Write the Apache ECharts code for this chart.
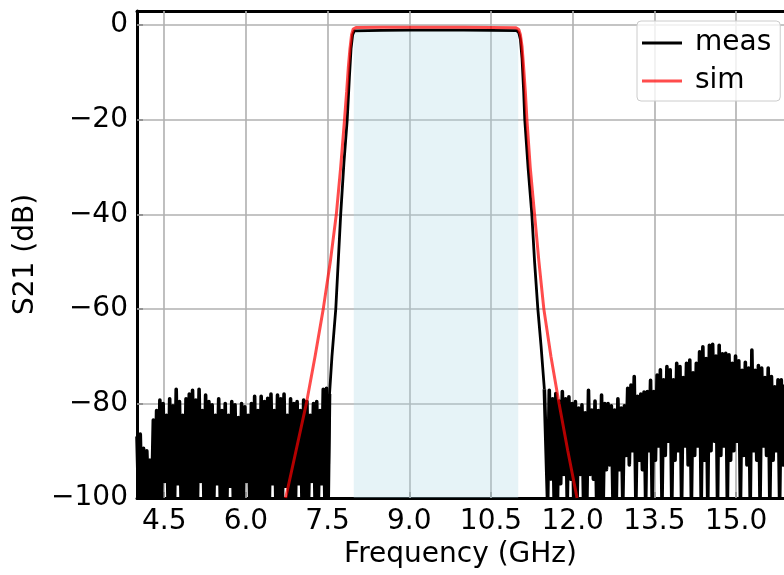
<!DOCTYPE html>
<html><head><meta charset="utf-8">
<script src="https://cdn.jsdelivr.net/npm/echarts@6/dist/echarts.min.js"></script>
<style>html,body{margin:0;padding:0;background:#fff}#c{width:784px;height:575px}</style>
</head><body><div id="c"></div>
<script>
// ---- tick labels ----
const xTicks = [4.5, 6.0, 7.5, 9.0, 10.5, 12.0, 13.5, 15.0];
const yTicks = [-100, -80, -60, -40, -20, 0];

// ---- measured S21: noise floor below band (sweep from 4.00 GHz, 0.03 GHz step) ----
const leftNoiseStart = 4.00;
const noiseStep = 0.03;
const leftNoiseDb = [
  -87, -101, -86.5, -101, -89.5, -101, -90, -101, -92, -101,
  -83.5, -101, -81.5, -100, -79.3, -101, -80, -96.5, -82.5, -101,
  -79, -101, -80.5, -101, -77, -97, -79.6, -101, -82.5, -101,
  -79, -101, -78, -101, -77.2, -101, -79.3, -101, -77, -96.5,
  -81.5, -101, -78.2, -101, -79.6, -101, -80.3, -101, -82.5, -97,
  -79, -101, -81.5, -101, -80, -101, -82.5, -97.5, -79.6, -101,
  -80.3, -101, -83, -101, -80, -101, -80.7, -96.5, -82.5, -101,
  -80, -101, -78.5, -101, -81.5, -101, -78.5, -101, -79.6, -101,
  -78.9, -101, -78, -97, -81.5, -101, -78.2, -101, -79, -101,
  -78, -97.5, -82.5, -101, -79, -101, -80, -101, -79.6, -97,
  -81.5, -101, -79.3, -101, -79.6, -101, -82.5, -96.5, -80, -101,
  -79.6, -101, -81.5, -97, -77, -101, -76.8
];

// ---- measured S21: skirts and passband ----
const measEdgeFreq = [7.51, 7.535, 7.58, 7.65, 7.74, 7.80, 7.86, 7.90, 7.93, 7.96, 7.99,
  8.5, 9.0, 9.5, 10.0, 10.5, 10.97, 11.01, 11.04, 11.07, 11.10, 11.12, 11.18, 11.25,
  11.30, 11.36, 11.42, 11.48];
const measEdgeDb = [-101, -78, -70, -60, -40, -29, -20, -11, -5, -2, -1.2,
  -1.1, -1.05, -1.05, -1.05, -1.1, -1.15, -1.6, -3, -7, -14, -20, -30, -40,
  -50, -60, -68, -77];

// ---- measured S21: noise floor above band (from 11.51 GHz, 0.03 GHz step) ----
const rightNoiseStart = 11.51;
const rightNoiseDb = [
  -77, -101, -77.2, -96, -79, -101, -77.9, -101, -79.5, -97,
  -77.5, -95, -79, -101, -78.6, -96, -80, -101, -79.6, -101,
  -81, -95, -80.3, -101, -82, -101, -77.2, -95, -81.4, -96,
  -79.5, -101, -81.5, -101, -78.2, -101, -80, -94, -80, -93,
  -80.5, -101, -81.4, -101, -79, -94, -81, -101, -80.5, -91,
  -76.8, -93, -76.1, -90, -74.3, -101, -78.5, -92, -78, -94,
  -77.6, -101, -77.5, -90, -75.1, -101, -77.5, -92, -74, -89,
  -72.9, -101, -75, -91, -72.2, -88, -72.9, -101, -75, -92,
  -71.5, -90, -72.2, -101, -74.5, -89, -71.5, -93, -70.8, -101,
  -73.5, -91, -71.5, -89, -69.1, -101, -68, -92, -70.5, -101,
  -67.7, -90, -67.5, -88, -70, -101, -67.7, -91, -69.5, -89,
  -69.4, -101, -69.7, -92, -71.5, -90, -70, -88, -71, -101,
  -73, -91, -71.3, -93, -72.5, -101, -68.7, -90, -73, -92,
  -72, -101, -72.5, -89, -74.5, -91, -72.5, -101, -74.3, -92,
  -76.5, -90, -75, -101, -75, -93, -76
];

// ---- simulated S21 ----
const simFreq = [6.73, 6.92, 7.11, 7.27, 7.42, 7.55, 7.66, 7.74, 7.81, 7.85, 7.88, 7.91, 7.94, 7.97, 8.02,
  8.5, 9.0, 9.5, 10.0, 10.5, 10.96, 11.01, 11.04, 11.07, 11.10, 11.13, 11.16, 11.22, 11.30,
  11.38, 11.47, 11.60, 11.75, 11.91, 12.08];
const simDb = [-100, -90, -80, -70, -60, -50, -40, -30, -20, -14, -9, -5, -2, -0.8, -0.5,
  -0.45, -0.45, -0.45, -0.45, -0.5, -0.55, -0.9, -2, -4.5, -9, -14, -20, -30, -40,
  -50, -60, -70, -80, -90, -100];

// ---- shaded passband ----
const bandStart = 7.98, bandEnd = 11.0, bandTop = -1.1;

const FONT = 'DejaVu Sans';
const measLow = leftNoiseDb.map((v, i) => [+(leftNoiseStart + i * noiseStep).toFixed(3), v]);
const measMid = measEdgeFreq.map((f, i) => [f, measEdgeDb[i]]);
const measHigh = rightNoiseDb.map((v, i) => [+(rightNoiseStart + i * noiseStep).toFixed(3), v]);
const sim = simFreq.map((f, i) => [f, simDb[i]]);

const fmtY = v => (v < 0 ? '\u2212' + Math.abs(v) : String(v));
const measSeries = (data, w) => ({
  name: 'meas', type: 'line', z: 3, symbol: 'none', showSymbol: false, clip: true, silent: true,
  color: '#000', data: data, lineStyle: {color: '#000', width: w, join: 'round'}
});
const chart = echarts.init(document.getElementById('c'), null, {renderer: 'canvas'});
chart.setOption({
  animation: false,
  backgroundColor: '#fff',
  textStyle: {fontFamily: FONT},
  grid: {left: 137, right: 0, top: 11, bottom: 77},
  legend: {
    data: ['meas', 'sim'], orient: 'vertical', left: 637, top: 21,
    icon: 'rect', itemWidth: 40, itemHeight: 3, itemGap: 4,
    padding: [5, 9, 3, 5],
    backgroundColor: 'rgba(255,255,255,0.8)', borderColor: '#cccccc', borderWidth: 1, borderRadius: 4,
    textStyle: {fontSize: 28, color: '#000', fontFamily: FONT, lineHeight: 34, padding: [0, 0, 0, 8]}
  },
  xAxis: [{
    type: 'value', min: 4.0, max: 15.88, position: 'bottom',
    name: 'Frequency (GHz)', nameLocation: 'middle', nameGap: 40,
    nameTextStyle: {fontSize: 28, color: '#000', fontFamily: FONT},
    axisLine: {show: true, onZero: false, lineStyle: {color: '#000', width: 3}},
    axisTick: {show: true, inside: true, length: 6, lineStyle: {color: '#000', width: 1.5}, customValues: xTicks},
    axisLabel: {fontSize: 28, color: '#000', margin: 10, fontFamily: FONT, customValues: xTicks,
      formatter: v => Number(v).toFixed(1)},
    splitLine: {show: false}
  }, {
    type: 'value', min: 4.0, max: 15.88, position: 'top',
    axisLine: {show: true, onZero: false, lineStyle: {color: '#000', width: 3}},
    axisTick: {show: false}, axisLabel: {show: false}, splitLine: {show: false}
  }],
  yAxis: {
    type: 'value', min: -100, max: 3,
    name: 'S21 (dB)', nameLocation: 'middle', nameGap: 95,
    nameTextStyle: {fontSize: 28, color: '#000', fontFamily: FONT},
    axisLine: {show: true, onZero: false, lineStyle: {color: '#000', width: 3}},
    axisTick: {show: true, inside: true, length: 6, lineStyle: {color: '#000', width: 1.5}, customValues: yTicks},
    axisLabel: {fontSize: 28, color: '#000', margin: 9, fontFamily: FONT, customValues: yTicks, formatter: fmtY},
    splitLine: {show: false}
  },
  series: [
    {
      name: 'gridlines', type: 'line', z: 1, silent: true, symbol: 'none',
      data: [[4.0, -100]], lineStyle: {opacity: 0},
      markLine: {
        z: 1, silent: true, symbol: ['none', 'none'], label: {show: false}, animation: false,
        lineStyle: {color: '#b0b0b0', width: 1.6, type: 'solid'},
        emphasis: {disabled: true},
        data: xTicks.map(v => ({xAxis: v})).concat(yTicks.filter(v => v > -100).map(v => ({yAxis: v})))
      }
    },
    {
      name: 'band', type: 'line', z: 2, silent: true, symbol: 'none',
      data: [[bandStart, -100]], lineStyle: {opacity: 0},
      markArea: {
        z: 2, silent: true, itemStyle: {color: 'rgba(173,216,230,0.3)'}, label: {show: false},
        data: [[{xAxis: bandStart, yAxis: -100}, {xAxis: bandEnd, yAxis: bandTop}]]
      }
    },
    measSeries(measLow.concat([measMid[0], measMid[1]]), 3.6),
    measSeries(measMid, 2.8),
    measSeries([measMid[measMid.length - 1]].concat(measHigh), 3.6),
    {
      name: 'sim', type: 'line', z: 4, symbol: 'none', showSymbol: false, clip: true,
      color: 'rgba(255,0,0,0.7)', data: sim, lineStyle: {color: 'rgba(255,0,0,0.7)', width: 3}, silent: true
    }
  ]
});
</script></body></html>
